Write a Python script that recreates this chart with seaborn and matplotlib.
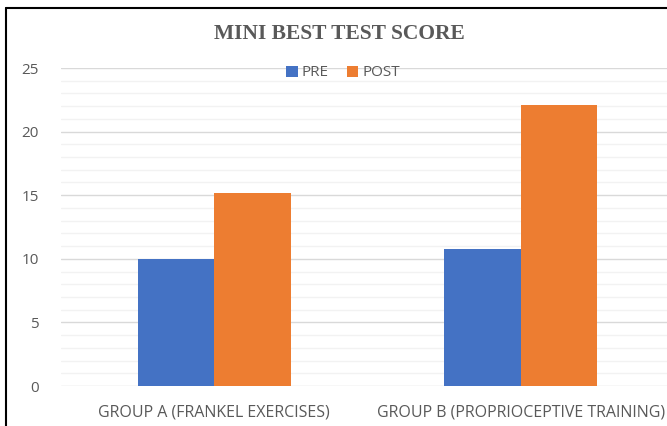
import matplotlib
matplotlib.use("Agg")
import matplotlib.pyplot as plt
from matplotlib.lines import Line2D
import seaborn as sns
import pandas as pd

groups = ["GROUP A (FRANKEL EXERCISES)", "GROUP B (PROPRIOCEPTIVE TRAINING)"]
pre_scores = [10.0, 10.8]
post_scores = [15.2, 22.1]
series = ["PRE", "POST"]
colors = ["#4472C4", "#ED7D31"]

df = pd.DataFrame({
    "group": groups * 2,
    "phase": [series[0]] * 2 + [series[1]] * 2,
    "score": pre_scores + post_scores,
})

sns.set_style("white")
plt.rcParams["font.family"] = ["Open Sans", "DejaVu Sans"]

W, H = 667, 426
fig = plt.figure(figsize=(W / 100, H / 100), dpi=100)
fig.patch.set_facecolor("white")
ax = fig.add_axes([61 / W, 1 - 386 / H, (674 - 61) / W, (386 - 68) / H])

sns.barplot(data=df, x="group", y="score", hue="phase", hue_order=series,
            palette=colors, width=0.5, saturation=1, linewidth=0, ax=ax, zorder=3)

ax.set_ylim(0, 25)
ax.set_xlim(-0.5, 1.5)
ax.set_yticks(range(0, 26, 5))
ax.set_yticks(range(0, 26, 1), minor=True)
ax.grid(axis="y", which="major", color="#D9D9D9", linewidth=1, zorder=0)
ax.grid(axis="y", which="minor", color="#F2F2F2", linewidth=1, zorder=0)
ax.set_axisbelow(True)
for s in ax.spines.values():
    s.set_visible(False)
ax.tick_params(axis="both", which="both", length=0, colors="#595959", labelsize=11)
ax.tick_params(axis="x", labelsize=11.5, pad=13)
ax.tick_params(axis="y", pad=16)
ax.set_xlabel("")
ax.set_ylabel("")

ax.legend(loc="center", bbox_to_anchor=(343 / W, 1 - 73 / H),
          bbox_transform=fig.transFigure, ncol=2, frameon=False,
          handlelength=0.75, handleheight=0.75, handletextpad=0.25,
          columnspacing=1.2, fontsize=11, labelcolor="#595959",
          borderpad=0, borderaxespad=0)

fig.text(339 / W, 1 - 34 / H, "MINI BEST TEST SCORE", ha="center", va="center",
         fontsize=15.5, fontweight="bold", color="#595959",
         family=["Liberation Serif", "DejaVu Serif"])

# outer chart frame (cut off at right and bottom)
fig.add_artist(Line2D([6 / W, 6 / W], [0, 1 - 8 / H], transform=fig.transFigure,
                      color="black", linewidth=1.5))
fig.add_artist(Line2D([6 / W, 1], [1 - 8 / H, 1 - 8 / H], transform=fig.transFigure,
                      color="black", linewidth=1.5))

fig.savefig("out.png", dpi=100)
